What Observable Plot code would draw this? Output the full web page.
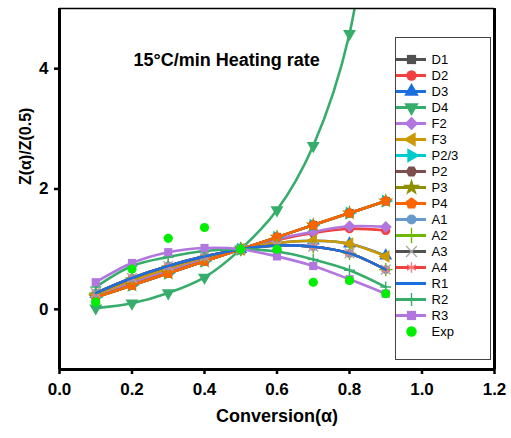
<!DOCTYPE html>
<html>
<head>
<meta charset="utf-8">
<script src="https://cdn.jsdelivr.net/npm/d3@7"></script>
<script src="https://cdn.jsdelivr.net/npm/@observablehq/plot@0.6"></script>
<style>
  html, body { margin: 0; padding: 0; background: #fff; }
  #wrap { position: relative; width: 511px; height: 438px; overflow: hidden; font-family: "Liberation Sans", Arial, sans-serif; }
  #legend { position: absolute; left: 395px; top: 37px; width: 94px; height: 321px; border: 1px solid #444; background: #fff; }
  #legend svg { display: block; }
</style>
</head>
<body>
<div id="wrap"><div id="chart"></div><div id="legend"></div></div>
<script>
// ---- data ----
const alpha = [0.1, 0.2, 0.3, 0.4, 0.5, 0.6, 0.7, 0.8, 0.9];
const D1  = [0.20, 0.40, 0.60, 0.80, 1.00, 1.20, 1.40, 1.60, 1.80];
const D2  = [0.22, 0.44, 0.64, 0.83, 1.00, 1.15, 1.27, 1.34, 1.31];
const D3  = [0.25, 0.48, 0.68, 0.86, 1.00, 1.10, 1.14, 1.09, 0.89];
const D4  = [0.02, 0.10, 0.27, 0.53, 1.00, 1.65, 2.72, 4.58, 9.00];
const F2  = [0.23, 0.45, 0.65, 0.84, 1.00, 1.17, 1.29, 1.38, 1.37];
const F3  = [0.25, 0.48, 0.68, 0.86, 1.00, 1.10, 1.14, 1.09, 0.88];
const P23 = [0.20, 0.40, 0.60, 0.80, 1.00, 1.20, 1.40, 1.60, 1.80];
const P2  = [0.20, 0.40, 0.60, 0.80, 1.00, 1.20, 1.40, 1.60, 1.80];
const P3  = [0.20, 0.40, 0.60, 0.80, 1.00, 1.20, 1.40, 1.60, 1.80];
const P4  = [0.20, 0.40, 0.60, 0.80, 1.00, 1.20, 1.40, 1.60, 1.80];
const A1  = [0.27, 0.52, 0.72, 0.88, 1.00, 1.06, 1.04, 0.93, 0.66];
const A2  = [0.27, 0.52, 0.72, 0.88, 1.00, 1.06, 1.04, 0.93, 0.66];
const A3  = [0.27, 0.52, 0.72, 0.88, 1.00, 1.06, 1.04, 0.93, 0.66];
const A4  = [0.27, 0.52, 0.72, 0.88, 1.00, 1.06, 1.04, 0.93, 0.66];
const R1  = [0.27, 0.52, 0.72, 0.88, 1.00, 1.06, 1.04, 0.93, 0.66];
const R2  = [0.37, 0.72, 0.87, 0.97, 1.00, 0.96, 0.83, 0.65, 0.37];
const R3  = [0.45, 0.77, 0.95, 1.02, 1.00, 0.88, 0.72, 0.50, 0.26];
const Exp = [0.12, 0.67, 1.18, 1.36, 1.00, 1.00, 0.45, 0.48, 0.26];

const xDomain = [0, 1.2];
const yDomain = [-1, 5];
const xTicks = [0, 0.2, 0.4, 0.6, 0.8, 1.0, 1.2];
const yTicks = [0, 2, 4];

// ---- custom symbols ----
function polygon(n, angle0) {
  return {
    draw(ctx, size) {
      const area = 0.5 * n * Math.sin(2 * Math.PI / n);
      const r = Math.sqrt(size / area);
      for (let i = 0; i < n; i++) {
        const a = angle0 + i * 2 * Math.PI / n;
        const x = r * Math.cos(a), y = r * Math.sin(a);
        if (i) ctx.lineTo(x, y); else ctx.moveTo(x, y);
      }
      ctx.closePath();
    }
  };
}
const triUp = polygon(3, -Math.PI / 2);
const triDown = polygon(3, Math.PI / 2);
const triLeft = polygon(3, Math.PI);
const triRight = polygon(3, 0);
const pentagon = polygon(5, -Math.PI / 2);
const hexagon = polygon(6, 0);
const diamond = polygon(4, 0);
const square = polygon(4, Math.PI / 4);

// ---- series definitions (style) ----
const series = [
  {name: "D1", values: D1, color: "#515151", symbol: square, r: 4.6},
  {name: "D2", values: D2, color: "#F14040", symbol: "circle", r: 4.6},
  {name: "D3", values: D3, color: "#1A6FDF", symbol: triUp, r: 4.8},
  {name: "D4", values: D4, color: "#37AD6B", symbol: triDown, r: 4.8},
  {name: "F2", values: F2, color: "#B177DE", symbol: diamond, r: 4.8},
  {name: "F3", values: F3, color: "#CC9900", symbol: triLeft, r: 4.8},
  {name: "P2/3", values: P23, color: "#00CBCC", symbol: triRight, r: 4.8},
  {name: "P2", values: P2, color: "#7D4E4E", symbol: hexagon, r: 4.6},
  {name: "P3", values: P3, color: "#8E8E00", symbol: "star", r: 4.8},
  {name: "P4", values: P4, color: "#FB6501", symbol: pentagon, r: 4.8},
  {name: "A1", values: A1, color: "#6699CC", symbol: "circle", r: 4.4},
  {name: "A2", values: A2, color: "#6FB802", symbol: "plus", r: 4.4, stroked: true},
  {name: "A3", values: A3, color: "#515151", mcolor: "#A9A9A9", symbol: "times", r: 4.4, stroked: true},
  {name: "A4", values: A4, color: "#F14040", mcolor: "#F47C7C", symbol: "asterisk", r: 4.4, stroked: true},
  {name: "R1", values: R1, color: "#1A6FDF", symbol: null},
  {name: "R2", values: R2, color: "#37AD6B", symbol: "plus", r: 3.6, stroked: true},
  {name: "R3", values: R3, color: "#B177DE", symbol: square, r: 4.6},
  {name: "Exp", values: Exp, color: "#00EE00", symbol: "circle", r: 4.6, noLine: true}
];

const rows = s => alpha.map((a, i) => ({x: a, y: s.values[i], name: s.name}));

const marks = [];
for (const s of series) {
  const data = rows(s);
  if (!s.noLine) {
    marks.push(Plot.line(data, {x: "x", y: "y", stroke: s.color, strokeWidth: 2.6, curve: "catmull-rom", clip: true}));
  }
  if (s.symbol) {
    if (s.stroked) {
      marks.push(Plot.dot(data, {x: "x", y: "y", symbol: s.symbol, r: s.r, stroke: s.mcolor || s.color, strokeWidth: 1.4, fill: "none", clip: true}));
    } else {
      marks.push(Plot.dot(data, {x: "x", y: "y", symbol: s.symbol, r: s.r, fill: s.mcolor || s.color, stroke: "none", clip: true}));
    }
  }
}

const chart = Plot.plot({
  width: 511,
  height: 438,
  marginLeft: 59,
  marginRight: 17,
  marginTop: 8,
  marginBottom: 69,
  style: {fontFamily: "Liberation Sans, Arial, sans-serif", fontSize: "17px", fontWeight: "bold", color: "black", background: "white"},
  x: {domain: xDomain},
  y: {domain: yDomain},
  marks: [
    ...marks,
    Plot.axisX({ticks: xTicks, tickFormat: d3.format(".1f"), tickSize: 5, tickPadding: 8, strokeWidth: 2.5, label: null, fontWeight: "bold", fontSize: 17}),
    Plot.axisY({ticks: yTicks, tickFormat: d3.format("d"), tickSize: 5, tickPadding: 6, strokeWidth: 2.5, label: null, fontWeight: "bold", fontSize: 17}),
    // frame: thin top, thick left / right / bottom
    Plot.ruleY([yDomain[1]], {stroke: "black", strokeWidth: 1.3}),
    Plot.ruleY([yDomain[0]], {stroke: "black", strokeWidth: 3}),
    Plot.ruleX(xDomain, {stroke: "black", strokeWidth: 3}),
    Plot.text(["15°C/min Heating rate"], {frameAnchor: "top-left", dx: 74, dy: 52, text: d => d, textAnchor: "start", lineAnchor: "middle", fontSize: 18, fontWeight: "bold", fill: "black"}),
    Plot.text(["Conversion(α)"], {frameAnchor: "bottom", dy: 47, text: d => d, lineAnchor: "middle", fontSize: 18, fontWeight: "bold", fill: "black"}),
    Plot.text(["Z(α)/Z(0.5)"], {frameAnchor: "left", dx: -34, dy: -4, rotate: -90, text: d => d, lineAnchor: "middle", fontSize: 16, fontWeight: "bold", fill: "black"})
  ]
});
document.getElementById("chart").appendChild(chart);

// ---- legend ----
const names = series.map(s => s.name);
const legendMarks = [];
for (const s of series) {
  const d = [{k: "s", name: s.name}];
  if (!s.noLine) legendMarks.push(Plot.tickY(d, {x: "k", y: "name", stroke: s.color, strokeWidth: 3}));
  if (s.symbol) {
    if (s.stroked) legendMarks.push(Plot.dot(d, {x: "k", y: "name", symbol: s.symbol, r: s.r + 0.6, stroke: s.mcolor || s.color, strokeWidth: 1.4}));
    else legendMarks.push(Plot.dot(d, {x: "k", y: "name", symbol: s.symbol, r: s.r + 0.6, fill: s.mcolor || s.color}));
  }
}
legendMarks.push(Plot.text(names, {x: () => "s", y: d => d, text: d => d, dx: 20, textAnchor: "start", fontSize: 13, fill: "black"}));

const legend = Plot.plot({
  width: 94,
  height: 321,
  margin: 0,
  style: {fontFamily: "Liberation Sans, Arial, sans-serif", fontSize: "13px", background: "transparent", overflow: "visible"},
  x: {type: "band", domain: ["s"], range: [0, 30], padding: 0, axis: null},
  y: {type: "point", domain: names, range: [10, 304.5], axis: null},
  marks: legendMarks
});
document.getElementById("legend").appendChild(legend);
</script>
</body>
</html>
